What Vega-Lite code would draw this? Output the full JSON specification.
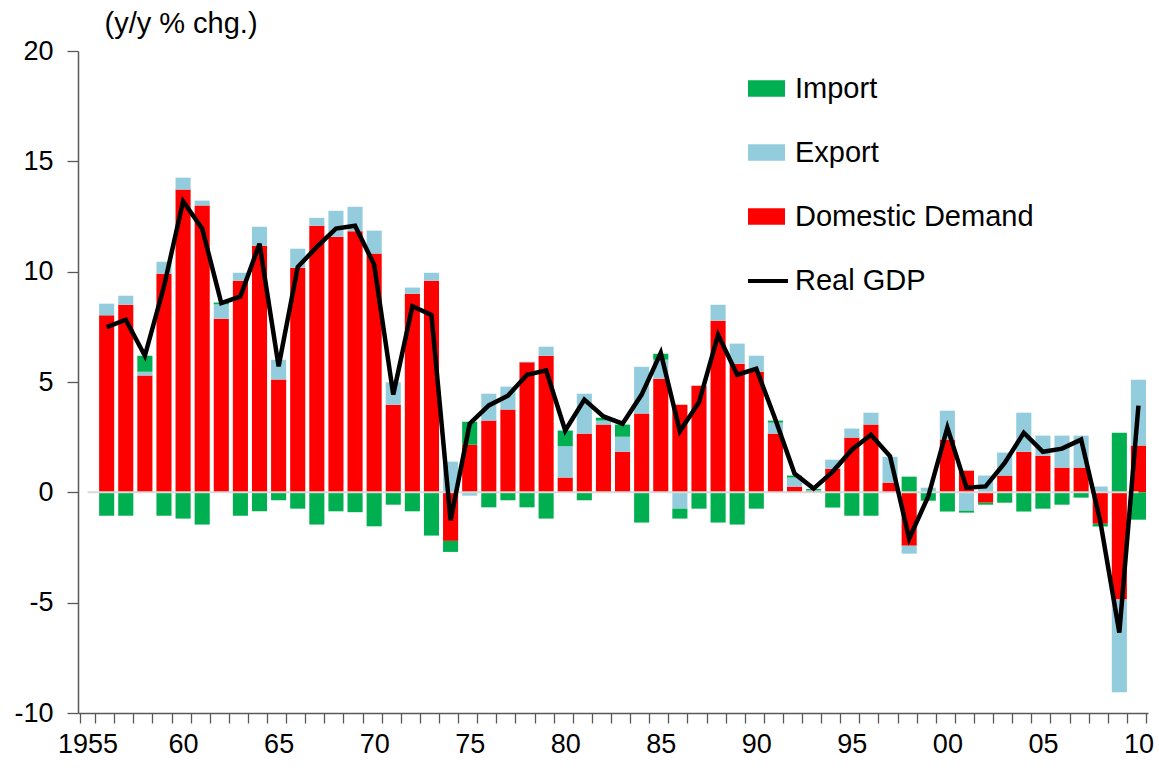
{
  "$schema": "https://vega.github.io/schema/vega-lite/v6.json",
  "width": 1070,
  "height": 662,
  "autosize": "none",
  "padding": {"left": 78, "top": 51, "right": 11, "bottom": 67},
  "background": "white",
  "config": {
    "font": "Liberation Sans",
    "view": {"stroke": null},
    "axis": {"labelFont": "Liberation Sans", "titleFont": "Liberation Sans", "labelColor": "black", "titleColor": "black", "grid": false}
  },
  "datasets": {
    "bars": [
      {"year": 1956, "component": "Domestic Demand", "value": 8.02}, {"year": 1956, "component": "Export", "value": 0.53}, {"year": 1956, "component": "Import", "value": -1.06},
      {"year": 1957, "component": "Domestic Demand", "value": 8.50}, {"year": 1957, "component": "Export", "value": 0.41}, {"year": 1957, "component": "Import", "value": -1.06},
      {"year": 1958, "component": "Domestic Demand", "value": 5.29}, {"year": 1958, "component": "Export", "value": 0.18}, {"year": 1958, "component": "Import", "value": 0.72},
      {"year": 1959, "component": "Domestic Demand", "value": 9.91}, {"year": 1959, "component": "Export", "value": 0.54}, {"year": 1959, "component": "Import", "value": -1.06},
      {"year": 1960, "component": "Domestic Demand", "value": 13.72}, {"year": 1960, "component": "Export", "value": 0.54}, {"year": 1960, "component": "Import", "value": -1.19},
      {"year": 1961, "component": "Domestic Demand", "value": 13.00}, {"year": 1961, "component": "Export", "value": 0.22}, {"year": 1961, "component": "Import", "value": -1.46},
      {"year": 1962, "component": "Domestic Demand", "value": 7.87}, {"year": 1962, "component": "Export", "value": 0.65}, {"year": 1962, "component": "Import", "value": 0.08},
      {"year": 1963, "component": "Domestic Demand", "value": 9.59}, {"year": 1963, "component": "Export", "value": 0.36}, {"year": 1963, "component": "Import", "value": -1.06},
      {"year": 1964, "component": "Domestic Demand", "value": 11.18}, {"year": 1964, "component": "Export", "value": 0.86}, {"year": 1964, "component": "Import", "value": -0.86},
      {"year": 1965, "component": "Domestic Demand", "value": 5.11}, {"year": 1965, "component": "Export", "value": 0.90}, {"year": 1965, "component": "Import", "value": -0.36},
      {"year": 1966, "component": "Domestic Demand", "value": 10.18}, {"year": 1966, "component": "Export", "value": 0.86}, {"year": 1966, "component": "Import", "value": -0.74},
      {"year": 1967, "component": "Domestic Demand", "value": 12.08}, {"year": 1967, "component": "Export", "value": 0.36}, {"year": 1967, "component": "Import", "value": -1.46},
      {"year": 1968, "component": "Domestic Demand", "value": 11.58}, {"year": 1968, "component": "Export", "value": 1.18}, {"year": 1968, "component": "Import", "value": -0.86},
      {"year": 1969, "component": "Domestic Demand", "value": 11.83}, {"year": 1969, "component": "Export", "value": 1.11}, {"year": 1969, "component": "Import", "value": -0.90},
      {"year": 1970, "component": "Domestic Demand", "value": 10.82}, {"year": 1970, "component": "Export", "value": 1.04}, {"year": 1970, "component": "Import", "value": -1.54},
      {"year": 1971, "component": "Domestic Demand", "value": 3.97}, {"year": 1971, "component": "Export", "value": 1.02}, {"year": 1971, "component": "Import", "value": -0.56},
      {"year": 1972, "component": "Domestic Demand", "value": 9.00}, {"year": 1972, "component": "Export", "value": 0.28}, {"year": 1972, "component": "Import", "value": -0.86},
      {"year": 1973, "component": "Domestic Demand", "value": 9.59}, {"year": 1973, "component": "Export", "value": 0.36}, {"year": 1973, "component": "Import", "value": -1.96},
      {"year": 1974, "component": "Domestic Demand", "value": -2.20}, {"year": 1974, "component": "Export", "value": 1.39}, {"year": 1974, "component": "Import", "value": -0.50},
      {"year": 1975, "component": "Domestic Demand", "value": 2.16}, {"year": 1975, "component": "Export", "value": -0.15}, {"year": 1975, "component": "Import", "value": 1.04},
      {"year": 1976, "component": "Domestic Demand", "value": 3.25}, {"year": 1976, "component": "Export", "value": 1.22}, {"year": 1976, "component": "Import", "value": -0.68},
      {"year": 1977, "component": "Domestic Demand", "value": 3.75}, {"year": 1977, "component": "Export", "value": 1.04}, {"year": 1977, "component": "Import", "value": -0.36},
      {"year": 1978, "component": "Domestic Demand", "value": 5.89}, {"year": 1978, "component": "Export", "value": 0.03}, {"year": 1978, "component": "Import", "value": -0.68},
      {"year": 1979, "component": "Domestic Demand", "value": 6.19}, {"year": 1979, "component": "Export", "value": 0.41}, {"year": 1979, "component": "Import", "value": -1.19},
      {"year": 1980, "component": "Domestic Demand", "value": 0.67}, {"year": 1980, "component": "Export", "value": 1.42}, {"year": 1980, "component": "Import", "value": 0.71},
      {"year": 1981, "component": "Domestic Demand", "value": 2.66}, {"year": 1981, "component": "Export", "value": 1.81}, {"year": 1981, "component": "Import", "value": -0.36},
      {"year": 1982, "component": "Domestic Demand", "value": 3.07}, {"year": 1982, "component": "Export", "value": 0.18}, {"year": 1982, "component": "Import", "value": 0.13},
      {"year": 1983, "component": "Domestic Demand", "value": 1.84}, {"year": 1983, "component": "Export", "value": 0.68}, {"year": 1983, "component": "Import", "value": 0.55},
      {"year": 1984, "component": "Domestic Demand", "value": 3.57}, {"year": 1984, "component": "Export", "value": 2.12}, {"year": 1984, "component": "Import", "value": -1.37},
      {"year": 1985, "component": "Domestic Demand", "value": 5.15}, {"year": 1985, "component": "Export", "value": 0.86}, {"year": 1985, "component": "Import", "value": 0.27},
      {"year": 1986, "component": "Domestic Demand", "value": 3.97}, {"year": 1986, "component": "Export", "value": -0.74}, {"year": 1986, "component": "Import", "value": -0.45},
      {"year": 1987, "component": "Domestic Demand", "value": 4.83}, {"year": 1987, "component": "Export", "value": 0.0}, {"year": 1987, "component": "Import", "value": -0.74},
      {"year": 1988, "component": "Domestic Demand", "value": 7.78}, {"year": 1988, "component": "Export", "value": 0.72}, {"year": 1988, "component": "Import", "value": -1.37},
      {"year": 1989, "component": "Domestic Demand", "value": 5.83}, {"year": 1989, "component": "Export", "value": 0.91}, {"year": 1989, "component": "Import", "value": -1.46},
      {"year": 1990, "component": "Domestic Demand", "value": 5.47}, {"year": 1990, "component": "Export", "value": 0.72}, {"year": 1990, "component": "Import", "value": -0.74},
      {"year": 1991, "component": "Domestic Demand", "value": 2.66}, {"year": 1991, "component": "Export", "value": 0.50}, {"year": 1991, "component": "Import", "value": 0.09},
      {"year": 1992, "component": "Domestic Demand", "value": 0.26}, {"year": 1992, "component": "Export", "value": 0.41}, {"year": 1992, "component": "Import", "value": 0.09},
      {"year": 1993, "component": "Domestic Demand", "value": 0.05}, {"year": 1993, "component": "Export", "value": 0.04}, {"year": 1993, "component": "Import", "value": 0.06},
      {"year": 1994, "component": "Domestic Demand", "value": 1.07}, {"year": 1994, "component": "Export", "value": 0.41}, {"year": 1994, "component": "Import", "value": -0.69},
      {"year": 1995, "component": "Domestic Demand", "value": 2.48}, {"year": 1995, "component": "Export", "value": 0.41}, {"year": 1995, "component": "Import", "value": -1.06},
      {"year": 1996, "component": "Domestic Demand", "value": 3.07}, {"year": 1996, "component": "Export", "value": 0.54}, {"year": 1996, "component": "Import", "value": -1.06},
      {"year": 1997, "component": "Domestic Demand", "value": 0.44}, {"year": 1997, "component": "Export", "value": 1.17}, {"year": 1997, "component": "Import", "value": 0.0},
      {"year": 1998, "component": "Domestic Demand", "value": -2.42}, {"year": 1998, "component": "Export", "value": -0.36}, {"year": 1998, "component": "Import", "value": 0.71},
      {"year": 1999, "component": "Domestic Demand", "value": 0.0}, {"year": 1999, "component": "Export", "value": 0.21}, {"year": 1999, "component": "Import", "value": -0.38},
      {"year": 2000, "component": "Domestic Demand", "value": 2.39}, {"year": 2000, "component": "Export", "value": 1.31}, {"year": 2000, "component": "Import", "value": -0.87},
      {"year": 2001, "component": "Domestic Demand", "value": 0.98}, {"year": 2001, "component": "Export", "value": -0.83}, {"year": 2001, "component": "Import", "value": -0.09},
      {"year": 2002, "component": "Domestic Demand", "value": -0.47}, {"year": 2002, "component": "Export", "value": 0.76}, {"year": 2002, "component": "Import", "value": -0.09},
      {"year": 2003, "component": "Domestic Demand", "value": 0.76}, {"year": 2003, "component": "Export", "value": 1.04}, {"year": 2003, "component": "Import", "value": -0.47},
      {"year": 2004, "component": "Domestic Demand", "value": 1.84}, {"year": 2004, "component": "Export", "value": 1.77}, {"year": 2004, "component": "Import", "value": -0.87},
      {"year": 2005, "component": "Domestic Demand", "value": 1.66}, {"year": 2005, "component": "Export", "value": 0.91}, {"year": 2005, "component": "Import", "value": -0.74},
      {"year": 2006, "component": "Domestic Demand", "value": 1.12}, {"year": 2006, "component": "Export", "value": 1.45}, {"year": 2006, "component": "Import", "value": -0.56},
      {"year": 2007, "component": "Domestic Demand", "value": 1.12}, {"year": 2007, "component": "Export", "value": 1.45}, {"year": 2007, "component": "Import", "value": -0.24},
      {"year": 2008, "component": "Domestic Demand", "value": -1.42}, {"year": 2008, "component": "Export", "value": 0.26}, {"year": 2008, "component": "Import", "value": -0.13},
      {"year": 2009, "component": "Domestic Demand", "value": -4.86}, {"year": 2009, "component": "Export", "value": -4.20}, {"year": 2009, "component": "Import", "value": 2.70},
      {"year": 2010, "component": "Domestic Demand", "value": 2.12}, {"year": 2010, "component": "Export", "value": 2.98}, {"year": 2010, "component": "Import", "value": -1.24}
    ],
    "gdp": [
      {"year": 1956, "gdp": 7.49}, {"year": 1957, "gdp": 7.82}, {"year": 1958, "gdp": 6.19}, {"year": 1959, "gdp": 9.33},
      {"year": 1960, "gdp": 13.19}, {"year": 1961, "gdp": 11.95}, {"year": 1962, "gdp": 8.58}, {"year": 1963, "gdp": 8.88},
      {"year": 1964, "gdp": 11.27}, {"year": 1965, "gdp": 5.71}, {"year": 1966, "gdp": 10.21}, {"year": 1967, "gdp": 11.12},
      {"year": 1968, "gdp": 11.95}, {"year": 1969, "gdp": 12.08}, {"year": 1970, "gdp": 10.32}, {"year": 1971, "gdp": 4.43},
      {"year": 1972, "gdp": 8.43}, {"year": 1973, "gdp": 8.04}, {"year": 1974, "gdp": -1.27}, {"year": 1975, "gdp": 3.11},
      {"year": 1976, "gdp": 3.94}, {"year": 1977, "gdp": 4.38}, {"year": 1978, "gdp": 5.33}, {"year": 1979, "gdp": 5.53},
      {"year": 1980, "gdp": 2.80}, {"year": 1981, "gdp": 4.20}, {"year": 1982, "gdp": 3.44}, {"year": 1983, "gdp": 3.11},
      {"year": 1984, "gdp": 4.43}, {"year": 1985, "gdp": 6.32}, {"year": 1986, "gdp": 2.77}, {"year": 1987, "gdp": 4.08},
      {"year": 1988, "gdp": 7.14}, {"year": 1989, "gdp": 5.33}, {"year": 1990, "gdp": 5.60}, {"year": 1991, "gdp": 3.30},
      {"year": 1992, "gdp": 0.85}, {"year": 1993, "gdp": 0.17}, {"year": 1994, "gdp": 0.94}, {"year": 1995, "gdp": 1.93},
      {"year": 1996, "gdp": 2.61}, {"year": 1997, "gdp": 1.63}, {"year": 1998, "gdp": -2.10}, {"year": 1999, "gdp": -0.18},
      {"year": 2000, "gdp": 2.93}, {"year": 2001, "gdp": 0.21}, {"year": 2002, "gdp": 0.27}, {"year": 2003, "gdp": 1.33},
      {"year": 2004, "gdp": 2.70}, {"year": 2005, "gdp": 1.84}, {"year": 2006, "gdp": 1.98}, {"year": 2007, "gdp": 2.39},
      {"year": 2008, "gdp": -1.30}, {"year": 2009, "gdp": -6.36}, {"year": 2010, "gdp": 3.93}
    ],
    "zero": [{"year": 1955, "v": 0}, {"year": 2010, "v": 0}]
  },
  "encoding": {
    "x": {
      "field": "year",
      "type": "ordinal",
      "scale": {
        "domain": [1955,1956,1957,1958,1959,1960,1961,1962,1963,1964,1965,1966,1967,1968,1969,1970,1971,1972,1973,1974,1975,1976,1977,1978,1979,1980,1981,1982,1983,1984,1985,1986,1987,1988,1989,1990,1991,1992,1993,1994,1995,1996,1997,1998,1999,2000,2001,2002,2003,2004,2005,2006,2007,2008,2009,2010],
        "paddingInner": 0.21,
        "paddingOuter": 0.105
      },
      "axis": {
        "title": null,
        "labelAngle": 0,
        "labelFontSize": 27,
        "labelExpr": "datum.value == 1955 ? '1955' : (datum.value % 5 == 0 ? substring(toString(datum.value), 2, 4) : '')",
        "tickBand": "extent",
        "tickSize": 10,
        "tickColor": "#595959",
        "domainColor": "#595959",
        "domainWidth": 1.5,
        "tickWidth": 1.3,
        "labelPadding": 8,
        "offset": 0
      }
    }
  },
  "layer": [
    {
      "data": {"name": "bars"},
      "mark": {"type": "bar", "strokeWidth": 0},
      "encoding": {
        "y": {
          "field": "value",
          "type": "quantitative",
          "stack": "zero",
          "scale": {"domain": [-10, 20], "nice": false},
          "axis": {
            "values": [-10, -5, 0, 5, 10, 15, 20],
            "labelExpr": "replace(datum.label, '\u2212', '-')",
            "title": "(y/y % chg.)",
            "titleAngle": 0,
            "titleAlign": "left",
            "titleBaseline": "alphabetic",
            "titleX": 26,
            "titleY": -19,
            "titleFontSize": 29,
            "titleFontWeight": "normal",
            "labelFontSize": 27,
            "labelPadding": 14,
            "tickSize": 11,
            "tickColor": "#595959",
            "domainColor": "#595959",
            "domainWidth": 1.5,
            "tickWidth": 1.3
          }
        },
        "color": {
          "field": "component",
          "type": "nominal",
          "scale": {
            "domain": ["Import", "Export", "Domestic Demand"],
            "range": ["#00B050", "#93CDDD", "#FF0000"]
          },
          "legend": {
            "title": null,
            "orient": "none",
            "legendX": 670,
            "legendY": 19,
            "symbolType": "M-1,-0.45H1V0.45H-1Z",
            "symbolSize": 1369,
            "symbolStrokeWidth": 0,
            "symbolOpacity": 1,
            "labelFontSize": 29,
            "labelColor": "black",
            "labelOffset": 10,
            "labelLimit": 500,
            "rowPadding": 30,
            "padding": 0
          }
        },
        "order": {"field": "component", "sort": "ascending"}
      }
    },
    {
      "data": {"name": "zero"},
      "mark": {"type": "line", "color": "#d9d9d9", "strokeWidth": 2},
      "encoding": {
        "y": {"field": "v", "type": "quantitative"}
      }
    },
    {
      "data": {"name": "gdp"},
      "mark": {"type": "line", "strokeWidth": 4.5, "strokeJoin": "miter"},
      "encoding": {
        "y": {"field": "gdp", "type": "quantitative"},
        "stroke": {
          "datum": "Real GDP",
          "scale": {"domain": ["Real GDP"], "range": ["black"]},
          "legend": {
            "title": null,
            "orient": "none",
            "legendX": 668,
            "legendY": 208,
            "symbolType": "stroke",
            "symbolSize": 1600,
            "symbolStrokeWidth": 4,
            "labelFontSize": 29,
            "labelColor": "black",
            "labelOffset": 5,
            "labelLimit": 500,
            "padding": 0
          }
        }
      }
    }
  ]
}
